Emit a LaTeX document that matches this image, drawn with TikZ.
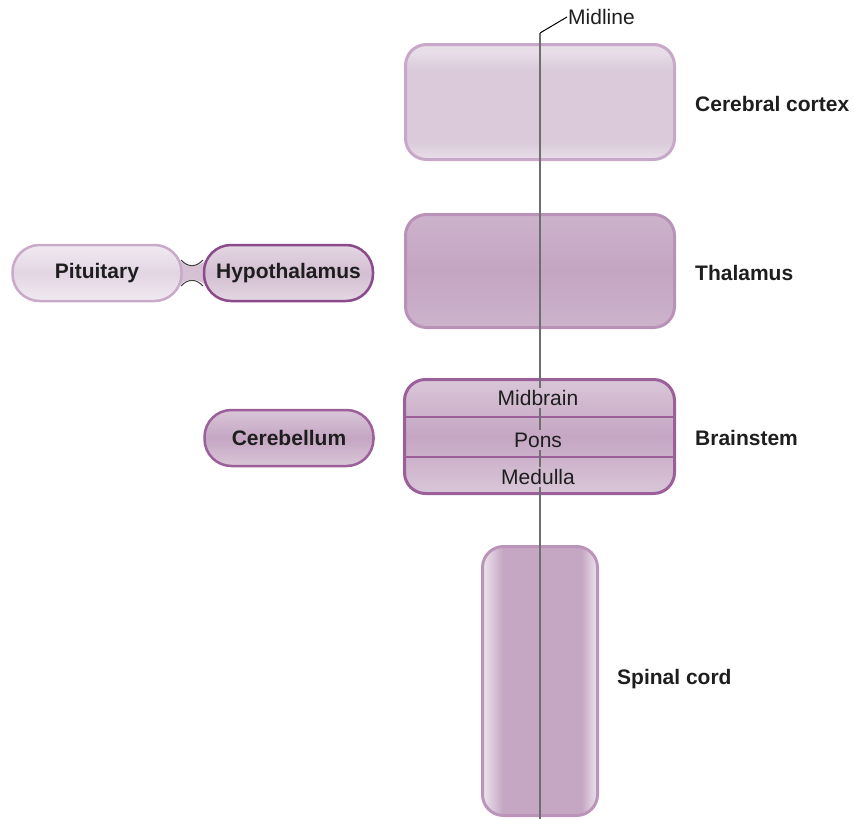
\documentclass[tikz,border=0pt]{standalone}
\usepackage{fontspec}
\setmainfont{Liberation Sans}
\definecolor{cxTop}{HTML}{E8DEE8}
\definecolor{cxMid}{HTML}{DACADA}
\definecolor{cxBorder}{HTML}{C8A8C8}
\definecolor{thTop}{HTML}{CDB3CC}
\definecolor{thMid}{HTML}{C4A5C2}
\definecolor{thBorder}{HTML}{B993B7}
\definecolor{bsBorder}{HTML}{9B5F99}
\definecolor{bsFill}{HTML}{C5A6C3}
\definecolor{bsLight}{HTML}{D9C6D8}
\definecolor{hyBorder}{HTML}{8B4A8B}
\definecolor{hyFill}{HTML}{D3BED2}
\definecolor{hyLight}{HTML}{E4D7E3}
\definecolor{piFill}{HTML}{E3D5E3}
\definecolor{piLight}{HTML}{F1EAF1}
\definecolor{piBorder}{HTML}{C9AAC9}
\definecolor{spBorder}{HTML}{BB95B9}
\definecolor{spLight}{HTML}{EEE5EE}
\definecolor{stalk}{HTML}{D5C0D4}
\definecolor{midgray}{HTML}{6E6E6E}
\definecolor{txt}{HTML}{1E1E1E}
\pgfdeclarehorizontalshading{spshade}{100bp}{color(0bp)=(spLight); color(25bp)=(spLight); color(34bp)=(bsFill); color(68bp)=(bsFill); color(75bp)=(spLight); color(100bp)=(spLight)}
\pgfdeclareverticalshading{cxshade}{100bp}{color(0bp)=(cxTop); color(25bp)=(cxTop); color(33bp)=(cxMid); color(64bp)=(cxMid); color(72bp)=(cxTop); color(75bp)=(cxTop); color(100bp)=(cxTop)}
\begin{document}
\begin{tikzpicture}[x=1pt,y=-1pt,
  font=\fontsize{21}{25}\selectfont, text=txt,
  bigbox/.style={draw, line width=3pt, rounded corners=21pt, inner sep=0pt},
  pill/.style={draw, line width=2.5pt, rounded corners=27pt, inner sep=0pt,
     minimum width=169pt, minimum height=56pt, font=\fontsize{21}{25}\selectfont\bfseries},
  sidelabel/.style={anchor=west, inner sep=0pt, font=\fontsize{21}{25}\selectfont\bfseries},
  sublabel/.style={inner sep=2pt},
  midseg/.style={midgray, line width=2.5pt}
]
\useasboundingbox (0,0) rectangle (854,819);

% stalk between pituitary and hypothalamus
\fill[stalk] (178,259) .. controls (187,268) and (197,268) .. (208,259) -- (208,287)
   .. controls (197,277) and (187,277) .. (178,287) -- cycle;
\draw[line width=1pt, black!75] (181,260) .. controls (188,267.5) and (196,267.5) .. (203,260);
\draw[line width=1pt, black!75] (181,286) .. controls (188,278.5) and (196,278.5) .. (203,286);

% main boxes
\node[bigbox, draw=cxBorder, shading=cxshade,
   minimum width=269pt, minimum height=115pt] (cortex) at (540,102) {};
\node[bigbox, draw=thBorder, top color=thTop, bottom color=thTop, middle color=thMid,
   minimum width=269pt, minimum height=113pt] (thalamus) at (540,271) {};
\node[bigbox, draw=bsBorder, top color=bsLight, bottom color=bsLight, middle color=bsFill,
   minimum width=270pt, minimum height=114pt] (brainstem) at (539.5,436.5) {};
\node[bigbox, draw=spBorder, shading=spshade,
   minimum width=115pt, minimum height=269pt] (spinal) at (540,681) {};

\node[pill, draw=hyBorder, top color=hyLight, bottom color=hyLight, middle color=hyFill] (hypo) at (288.5,273) {Hypothalamus};
\node[pill, draw=piBorder, top color=piLight, bottom color=piLight, middle color=piFill] (pit) at (97,273) {Pituitary};
\node[pill, draw=bsBorder, top color=bsLight, bottom color=bsLight, middle color=bsFill] (cereb) at (289,438) {Cerebellum};

% brainstem dividers
\draw[bsBorder, line width=1.5pt] (brainstem.west |- 0,417) coordinate (d1w) -- (brainstem.east |- 0,417) coordinate (d1e);
\draw[bsBorder, line width=1.5pt] (brainstem.west |- 0,457) coordinate (d2w) -- (brainstem.east |- 0,457) coordinate (d2e);

% brainstem sublabels
\node[sublabel] (midbrain) at (538,398) {Midbrain};
\node[sublabel] (pons) at (538,440) {Pons};
\node[sublabel] (medulla) at (538,477) {Medulla};

% midline (broken behind the brainstem labels)
\coordinate (mltop) at (540,33);
\coordinate (mlbot) at (540,819);
\draw[midseg] (mltop) -- (mltop |- midbrain.north);
\draw[midseg] (mltop |- midbrain.south) -- (mltop |- pons.north);
\draw[midseg] (mltop |- pons.south) -- (mltop |- medulla.north);
\draw[midseg] (mltop |- medulla.south) -- (mlbot);
\node[anchor=west, inner sep=1pt] (midlab) at (567,17) {Midline};
\draw[black, line width=1pt] (mltop) -- (midlab.west);

% side labels
\node[sidelabel] (lcortex) at (695,104) {Cerebral cortex};
\node[sidelabel] (lthal) at (695,273) {Thalamus};
\node[sidelabel] (lbs) at (695,438) {Brainstem};
\node[sidelabel] (lsp) at (617,679) {Spinal cord};
\end{tikzpicture}
\end{document}
